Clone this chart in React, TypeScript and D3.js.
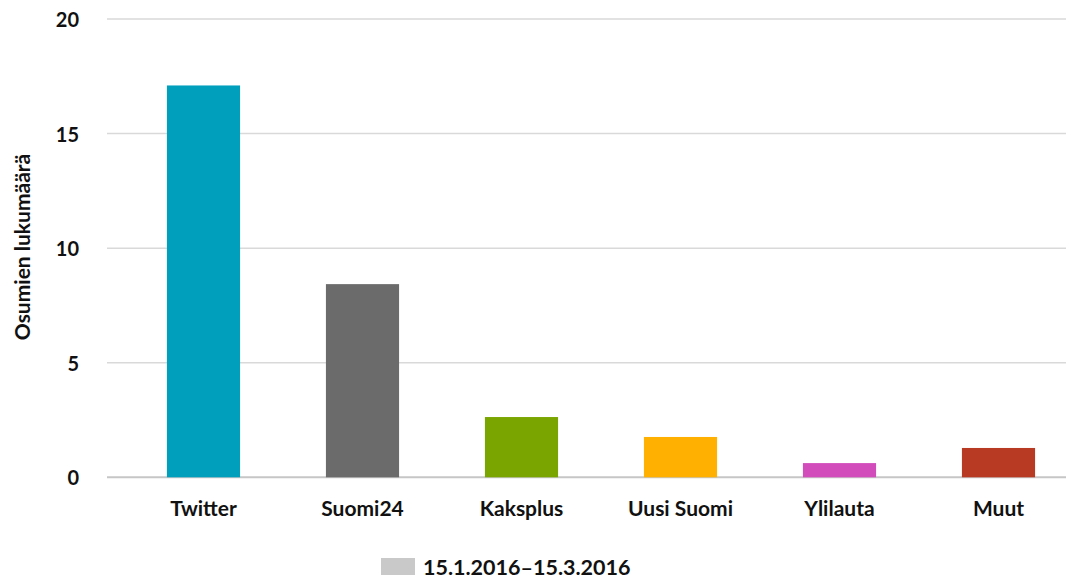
import React from "react";
import { scaleBand, scaleLinear } from "d3";

const categories = ["Twitter", "Suomi24", "Kaksplus", "Uusi Suomi", "Ylilauta", "Muut"];
const hits = [17.1, 8.43, 2.63, 1.76, 0.62, 1.28];
const barColors = ["#00a0bd", "#6b6b6b", "#7aa500", "#ffb000", "#d34cbc", "#b83a22"];
const yTicks = [0, 5, 10, 15, 20];
const legendLabel = "15.1.2016–15.3.2016";
const yTitle = "Osumien lukumäärä";

const width = 1066;
const height = 581;
const font = "Lato, 'Open Sans', sans-serif";

export default function App() {
  const x = scaleBand<string>()
    .domain(categories)
    .range([124, 1078])
    .paddingInner(0.54)
    .paddingOuter(0.27);

  const y = scaleLinear().domain([0, 20]).range([477.3, 19]);

  return (
    <svg
      width={width}
      height={height}
      style={{ position: "absolute", left: 0, top: 0, background: "#fff" }}
      fontFamily={font}
    >
      {/* grid */}
      {yTicks.map((t) => (
        <g key={t}>
          <line
            x1={107}
            x2={width}
            y1={y(t)}
            y2={y(t)}
            stroke={t === 0 ? "#c6c6c6" : "#d9d9d9"}
            strokeWidth={t === 0 ? 2 : 1.5}
          />
          <text
            x={79}
            y={y(t)}
            textAnchor="end"
            dominantBaseline="central"
            fontSize={20}
            fontWeight={700}
            fill="#111"
          >
            {t}
          </text>
        </g>
      ))}

      {/* bars */}
      {categories.map((c, i) => (
        <rect
          key={c}
          x={x(c)}
          y={y(hits[i])}
          width={x.bandwidth()}
          height={y(0) - y(hits[i])}
          fill={barColors[i]}
        />
      ))}

      {/* category labels */}
      {categories.map((c) => (
        <text
          key={c}
          x={(x(c) ?? 0) + x.bandwidth() / 2}
          y={507}
          textAnchor="middle"
          dominantBaseline="central"
          fontSize={21}
          fontWeight={700}
          fill="#111"
        >
          {c}
        </text>
      ))}

      {/* y title */}
      <text
        transform="translate(21, 247) rotate(-90)"
        textAnchor="middle"
        dominantBaseline="central"
        fontSize={21}
        fontWeight={700}
        fill="#111"
      >
        {yTitle}
      </text>

      {/* legend */}
      <rect x={381} y={558} width={34} height={17} fill="#c8c9c8" />
      <text
        x={423}
        y={567}
        dominantBaseline="central"
        fontSize={21.5}
        fontWeight={700}
        fill="#111"
      >
        {legendLabel}
      </text>
    </svg>
  );
}
